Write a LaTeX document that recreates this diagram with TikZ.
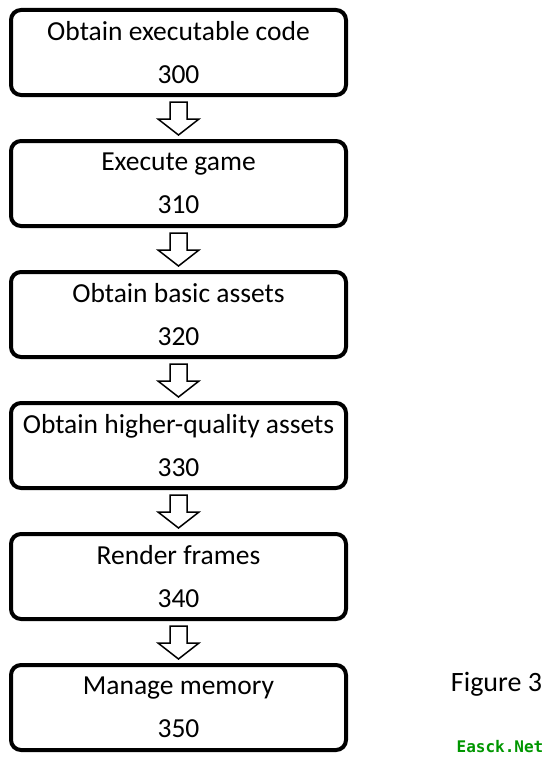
\documentclass[tikz,border=0pt]{standalone}
\usepackage{fontspec}
\setmainfont{Carlito}
\newfontfamily\markfont{DejaVu Sans Mono}
\usetikzlibrary{positioning}

\tikzset{
  stepbox/.style={draw, line width=4pt, rounded corners=10pt,
    minimum width=335pt, minimum height=85pt, align=center,
    font=\fontsize{27.5}{43}\selectfont},
  blockarrow/.style={draw, line width=1.5pt, fill=white, line join=miter}
}

\begin{document}
\begin{tikzpicture}[x=1pt, y=1pt, node distance=42pt]
  \useasboundingbox (0,0) rectangle (550,-760);

  \node[stepbox] (code) at (178.5,-52.5) {Obtain executable code\\300};
  \node[stepbox, below=of code] (game) {Execute game\\310};
  \node[stepbox, below=of game] (basic) {Obtain basic assets\\320};
  \node[stepbox, below=of basic] (higher) {Obtain higher-quality assets\\330};
  \node[stepbox, below=of higher] (frames) {Render frames\\340};
  \node[stepbox, below=of frames] (memory) {Manage memory\\350};

  % block arrows between the steps
  \foreach \a/\b in {code/game, game/basic, basic/higher, higher/frames, frames/memory}
    \draw[blockarrow] ([xshift=-8.5pt,yshift=-5pt]\a.south) -- ([xshift=-8.5pt,yshift=20pt]\b.north)
      -- ([xshift=-20.5pt,yshift=20pt]\b.north) -- ([yshift=4pt]\b.north)
      -- ([xshift=20.5pt,yshift=20pt]\b.north) -- ([xshift=8.5pt,yshift=20pt]\b.north)
      -- ([xshift=8.5pt,yshift=-5pt]\a.south) -- cycle;

  \node[anchor=base, font=\fontsize{28}{30}\selectfont] (fig) at (496.5,-691) {Figure 3};
  \node[anchor=base, font=\markfont\bfseries\fontsize{16}{18}\selectfont, text={rgb,255:red,0;green,150;blue,0}] (mark) at (500,-752) {Easck.Net};
\end{tikzpicture}
\end{document}
